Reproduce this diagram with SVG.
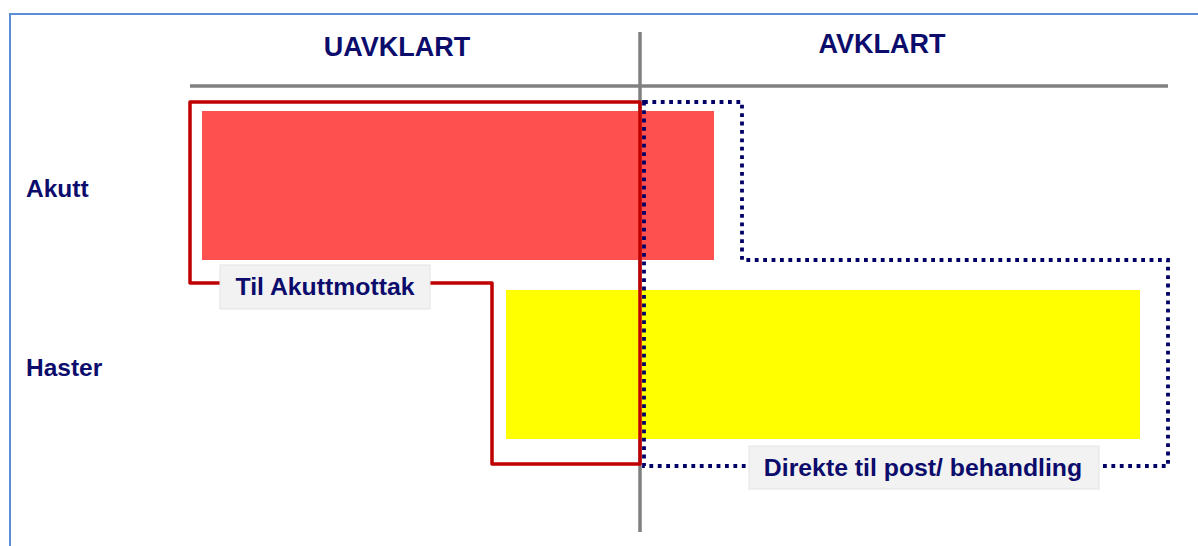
<svg xmlns="http://www.w3.org/2000/svg" width="1198" height="546" viewBox="0 0 1198 546">
  <style>
    .txt { font-family: "Liberation Sans", Arial, sans-serif; font-weight: bold; fill: #0c0c6c; }
    .head { font-size: 27px; text-anchor: middle; }
    .row { font-size: 24.5px; }
    .lbl { font-size: 24.8px; text-anchor: middle; }
    .axis { stroke: #808080; stroke-width: 3.5; fill: none; }
    .tag { fill: #f2f2f2; stroke: #e3e3e3; stroke-width: 1; }
  </style>

  <!-- frame -->
  <rect x="0" y="0" width="1198" height="546" fill="#ffffff"/>
  <rect x="10" y="14" width="1200" height="545" fill="none" stroke="#5b8ed6" stroke-width="2"/>

  <!-- axes -->
  <g id="axes">
    <line class="axis" x1="190" y1="86" x2="1168" y2="86"/>
    <line class="axis" x1="640" y1="32" x2="640" y2="532"/>
  </g>

  <!-- column headers -->
  <g id="header-uavklart"><text class="txt head" x="397" y="56">UAVKLART</text></g>
  <g id="header-avklart"><text class="txt head" x="882" y="53">AVKLART</text></g>

  <!-- row labels -->
  <g id="row-akutt"><text class="txt row" x="26" y="197">Akutt</text></g>
  <g id="row-haster"><text class="txt row" x="26" y="376">Haster</text></g>

  <!-- bars -->
  <g id="bar-akutt"><rect x="202" y="111" width="512" height="149" fill="#ff5050"/></g>
  <g id="bar-haster"><rect x="506" y="290" width="634" height="149" fill="#ffff00"/></g>

  <!-- routing outlines -->
  <g id="connectors" fill="none">
    <path d="M640,102 H190 V283 H492 V464 H640 Z" stroke="#c00000" stroke-width="3.5" stroke-linejoin="round"/>
    <path d="M644,102 H742 V260 H1168 V466 H644 Z" stroke="#000066" stroke-width="3.8" stroke-dasharray="3.8 4.6"/>
  </g>

  <!-- route labels -->
  <g id="label-akuttmottak">
    <rect class="tag" x="220" y="265" width="210" height="44"/>
    <text class="txt lbl" x="325" y="295">Til Akuttmottak</text>
  </g>
  <g id="label-direkte">
    <rect class="tag" x="749" y="446" width="350" height="43"/>
    <text class="txt lbl" x="923" y="476">Direkte til post/ behandling</text>
  </g>
</svg>
